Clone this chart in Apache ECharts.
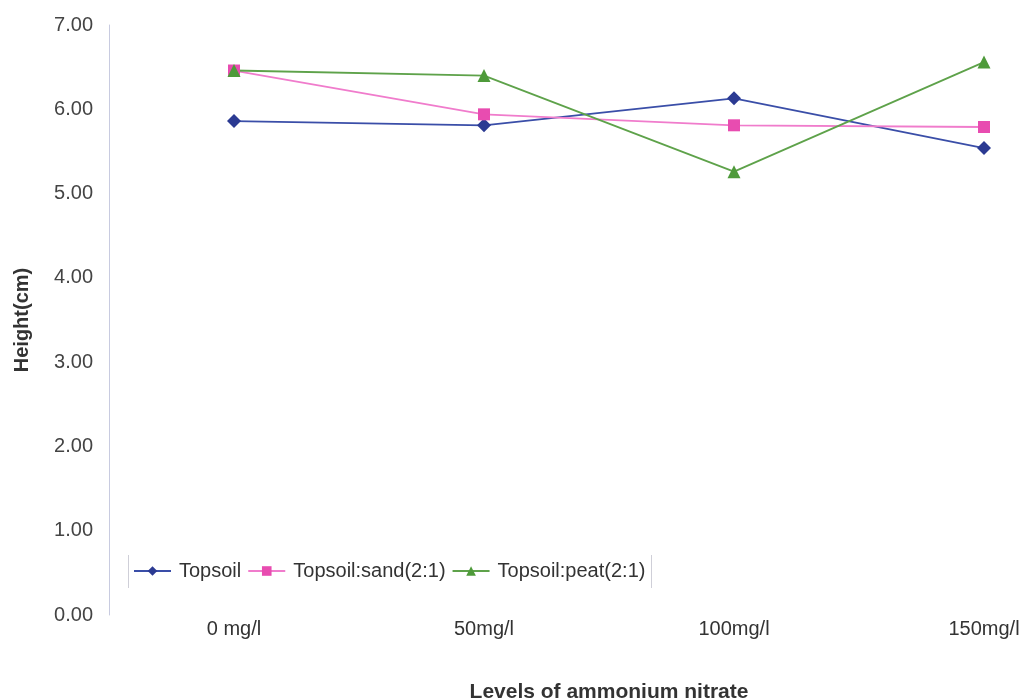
<!DOCTYPE html>
<html>
<head>
<meta charset="utf-8">
<script src="https://cdn.jsdelivr.net/npm/echarts@6/dist/echarts.min.js"></script>
<style>
html,body{margin:0;padding:0;background:#fff;}
#chart{width:1027px;height:699px;}
</style>
</head>
<body>
<div id="chart"></div>
<script>
const categories = ['0 mg/l', '50mg/l', '100mg/l', '150mg/l'];
const topsoil = [5.86, 5.81, 6.13, 5.54];
const topsoilSand = [6.46, 5.94, 5.81, 5.79];
const topsoilPeat = [6.46, 6.40, 5.26, 6.56];
const yTicks = [0, 1, 2, 3, 4, 5, 6, 7];

const chart = echarts.init(document.getElementById('chart'));
const font = 'Liberation Sans, Arial, sans-serif';
chart.setOption({
  animation: false,
  backgroundColor: '#ffffff',
  grid: { left: 234, top: 25, right: 43, bottom: 84, containLabel: false, outerBoundsMode: 'none' },
  legend: {
    left: 129, top: 557,
    itemWidth: 37, itemHeight: 12, itemGap: 6,
    padding: [4, 4, 4, 4],
    textStyle: { fontFamily: font, fontSize: 20, color: '#333', padding: [0, 0, 0, 3] },
    data: ['Topsoil', 'Topsoil:sand(2:1)', 'Topsoil:peat(2:1)']
  },
  graphic: [
    { type: 'line', shape: { x1: 128.5, y1: 555, x2: 128.5, y2: 588 }, style: { stroke: '#cfcfd8', lineWidth: 1 } },
    { type: 'line', shape: { x1: 651.5, y1: 555, x2: 651.5, y2: 588 }, style: { stroke: '#cfcfd8', lineWidth: 1 } }
  ],
  xAxis: {
    type: 'category',
    data: categories,
    boundaryGap: false,
    axisLine: { show: false },
    axisTick: { show: false },
    axisLabel: { fontFamily: font, fontSize: 20, color: '#333', margin: 4 },
    name: 'Levels of ammonium nitrate',
    nameLocation: 'middle',
    nameGap: 67,
    nameTextStyle: { fontFamily: font, fontSize: 21, fontWeight: 'bold', color: '#333' }
  },
  yAxis: {
    type: 'value',
    offset: 125,
    min: yTicks[0], max: yTicks[yTicks.length - 1], interval: 1,
    axisLine: { show: true, lineStyle: { color: '#c8cbe0', width: 1 } },
    axisTick: { show: false },
    splitLine: { show: false },
    axisLabel: { fontFamily: font, fontSize: 20, color: '#444', margin: 16, formatter: v => v.toFixed(2) },
    name: 'Height(cm)',
    nameLocation: 'middle',
    nameGap: 77,
    nameRotate: 90,
    nameTextStyle: { fontFamily: font, fontSize: 20, fontWeight: 'bold', color: '#333' }
  },
  series: [
    {
      name: 'Topsoil', type: 'line', data: topsoil,
      symbol: 'diamond', symbolSize: 14,
      lineStyle: { color: '#3a4ea8', width: 1.8 },
      itemStyle: { color: '#2b3a92' }
    },
    {
      name: 'Topsoil:sand(2:1)', type: 'line', data: topsoilSand,
      symbol: 'rect', symbolSize: 12,
      lineStyle: { color: '#f07ccc', width: 1.8 },
      itemStyle: { color: '#e84cb0' }
    },
    {
      name: 'Topsoil:peat(2:1)', type: 'line', data: topsoilPeat,
      symbol: 'triangle', symbolSize: 13,
      lineStyle: { color: '#5ea24a', width: 1.8 },
      itemStyle: { color: '#4e9a3a' }
    }
  ]
});
</script>
</body>
</html>
